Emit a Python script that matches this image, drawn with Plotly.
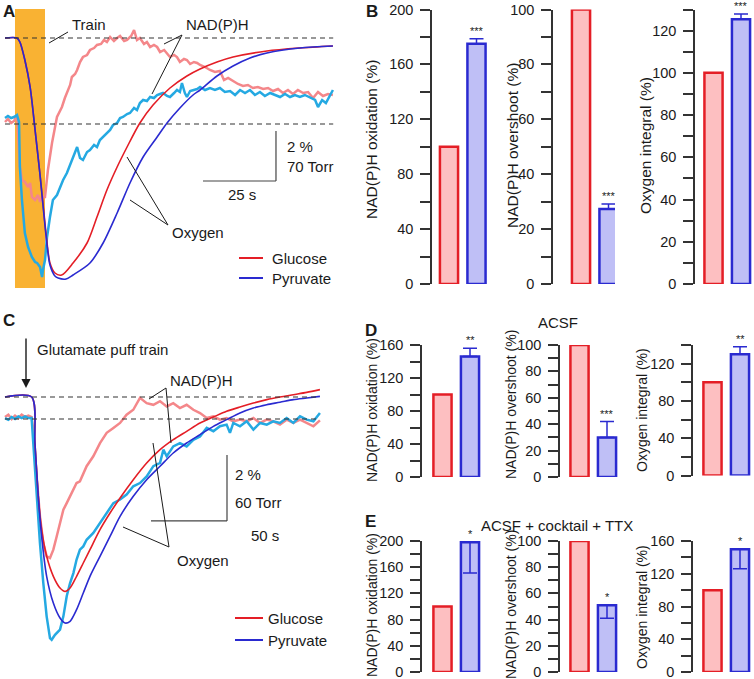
import plotly.graph_objects as go

W, H = 754, 679

# ---------------- Panel A traces (time in s, NAD(P)H in %, oxygen in Torr) ----------------
a_t_o2_glc = [0, 4.1, 5.1, 6.8, 8.6, 10.3, 12.0, 13.0, 14.4, 15.4, 17.1, 19.4, 23.3, 28.1, 31.5,
              34.9, 38.4, 41.8, 46.2, 50.7, 56.5, 62.3, 66.8, 72.6, 78.1, 89.7, 101.0, 112.3]
a_o2_glucose = [0, 0, -5.6, -30.8, -68.6, -128.8, -191.8, -231, -287, -315, -329, -331.8, -315, -287, -250.6,
                -212.8, -180.6, -152.6, -119, -93.8, -70, -53.2, -43.4, -33.6, -26.6, -18.2, -14, -11.2]
a_t_o2_pyr = [0, 4.1, 5.1, 6.8, 8.6, 10.3, 12.0, 13.0, 14.4, 15.4, 17.1, 18.2, 20.9, 23.3, 29.1, 33.6,
              38.4, 42.8, 47.3, 52.1, 55.5, 59.9, 64.4, 66.8, 72.6, 78.1, 83.9, 89.7, 101.0, 112.3]
a_o2_pyruvate = [0, 0, -5.6, -30.8, -68.6, -128.8, -191.8, -233.8, -289.8, -317.8, -333.2, -336, -337.4, -331.8,
                 -315, -287, -245, -203, -166.6, -138.6, -119, -98, -79.8, -72.8, -53.2, -39.2, -28, -21, -14, -11.2]

a_t_nadh_glc = [0, 1.0, 2.1, 3.1, 4.1, 4.5, 5.1, 5.8, 6.8, 7.9, 8.6, 9.2, 10.3, 11.3, 12.0, 12.7, 13.7, 14.7,
                16.1, 17.8, 18.8, 19.5, 20.5, 21.2, 22.3, 22.9, 24.0, 24.7, 25.7, 26.7, 28.1, 29.1, 30.5,
                31.5, 32.9, 33.9, 34.9, 36.0, 37.3, 38.4, 39.4, 40.8, 41.8, 43.2, 44.2, 45.2, 46.2, 47.6,
                48.6, 49.7, 51.0, 52.1, 53.1, 54.5, 55.5, 56.5, 57.9, 58.9, 59.9, 61.3, 62.3, 63.4, 64.7,
                65.8, 66.8, 68.5, 70.2, 71.9, 73.6, 75.0, 76.4, 78.1, 79.8, 81.5, 83.2, 84.9, 86.6, 88.4,
                90.1, 91.8, 93.5, 95.2, 96.9, 98.6, 100.3, 102.1, 103.8, 105.5, 107.2, 108.9, 110.6, 112.3]
a_nadh_glucose = [0.08, 0.20, 0.04, 0.12, 0.36, -0.36, -1.72, -2.24, -2.32, -2.52, -2.36, -2.92, -3.04, -2.84,
                  -3.12, -2.92, -2.92, -1.84, -0.76, 0.28, 0.56, 0.68, 1.04, 1.24, 1.56, 1.88, 2.0, 2.16, 2.48,
                  2.68, 2.76, 2.96, 3.04, 3.16, 3.2, 3.36, 3.28, 3.48, 3.32, 3.44, 3.52, 3.32, 3.36, 3.52,
                  3.76, 3.36, 3.44, 3.2, 3.28, 3.08, 3.16, 3.08, 2.88, 2.96, 2.84, 2.68, 2.76, 2.68, 2.48,
                  2.6, 2.56, 2.4, 2.48, 2.44, 2.36, 2.28, 2.16, 2.08, 2.12, 1.76, 1.84, 1.72, 1.6, 1.52,
                  1.56, 1.44, 1.48, 1.4, 1.44, 1.32, 1.4, 1.24, 1.36, 1.2, 1.36, 1.24, 1.28, 1.04, 1.28,
                  1.12, 1.2, 1.16]

a_t_nadh_pyr = [0, 1.0, 2.1, 3.1, 4.1, 4.8, 5.1, 5.8, 6.8, 7.9, 9.2, 10.3, 11.0, 12.0, 12.7, 13.0, 13.7, 14.4,
                15.4, 16.4, 17.8, 18.8, 19.9, 21.2, 22.3, 23.3, 24.7, 25.7, 26.7, 28.1, 29.1, 30.5, 31.5,
                32.5, 33.6, 34.9, 36.0, 37.0, 38.4, 39.4, 40.4, 41.8, 42.8, 44.2, 45.2, 46.2, 47.3, 48.6,
                49.7, 51.0, 52.1, 53.1, 54.1, 55.5, 56.5, 57.9, 58.9, 59.9, 60.6, 61.6, 62.3, 63.4, 64.4,
                65.8, 66.8, 68.5, 70.2, 71.9, 73.6, 75.3, 77.1, 78.8, 80.5, 82.2, 83.9, 85.6, 87.3, 89.0,
                90.8, 92.5, 94.2, 95.9, 97.6, 99.3, 101.0, 102.7, 104.5, 106.2, 107.2, 108.6, 109.9, 111.3, 112.3]
a_nadh_pyruvate = [0.24, 0.32, 0.24, 0.28, 0.36, 0.08, -1.72, -3.04, -4.36, -4.92, -5.32, -5.52, -5.56, -5.72,
                   -6.12, -5.84, -5.44, -4.52, -3.72, -3.04, -2.84, -2.52, -2.24, -1.96, -1.64, -1.32, -0.92,
                   -1.36, -1.44, -1.12, -1.04, -0.84, -0.92, -0.64, -0.52, -0.36, -0.24, -0.04, 0.04, 0.24,
                   0.28, 0.4, 0.44, 0.64, 0.56, 0.84, 0.96, 0.92, 1.08, 1.04, 1.16, 1.2, 1.24, 1.12, 1.08,
                   1.24, 1.36, 1.28, 1.64, 1.24, 1.08, 1.32, 1.36, 1.4, 1.48, 1.36, 1.44, 1.36, 1.44, 1.28,
                   1.32, 1.16, 1.36, 1.24, 1.36, 1.16, 1.28, 1.12, 1.24, 1.16, 1.08, 1.2, 1.08, 1.16, 1.08,
                   1.16, 1.04, 0.96, 0.68, 0.96, 0.84, 1.16, 1.36]

# ---------------- Panel C traces ----------------
c_t_o2 = [0, 17.5, 19.7, 21.9, 24.1, 27.4, 31.8, 36.2, 39.5, 42.8, 47.1, 51.5, 55.9, 62.5, 69.1, 75.7,
          84.4, 93.2, 102.0, 110.7, 119.5, 128.3, 137.1, 145.8, 154.6, 163.4, 172.2, 180.9, 189.7, 198.5, 207.2]
c_o2_glucose = [0, 0, -41.8, -90.3, -120.6, -144.8, -163.0, -173.6, -176.7, -173.6, -163.0, -150.9, -138.8,
                -120.6, -105.5, -91.8, -75.2, -60.0, -47.9, -38.8, -31.2, -23.6, -18.2, -13.0, -9.1, -5.5,
                -2.4, 0, 2.1, 4.2, 6.7]
c_o2_pyruvate = [0, 0, -41.8, -90.3, -126.7, -163.0, -187.3, -200.9, -205.5, -203.9, -193.3, -178.2, -163.0,
                 -144.8, -126.7, -108.5, -90.3, -75.2, -63.0, -50.9, -41.8, -34.2, -26.7, -20.6, -14.5,
                 -10.0, -7.0, -4.8, -2.4, -0.9, 0.6]

c_t_nadh_glc = [0, 2.2, 4.4, 6.6, 8.8, 11.0, 13.2, 15.4, 17.5, 18.6, 20.8, 23.0, 25.2, 27.4, 29.6, 31.8, 34.0,
                36.2, 38.4, 40.6, 42.8, 45.0, 47.1, 49.3, 51.5, 53.7, 55.9, 58.1, 62.5, 66.9, 71.3, 75.7,
                80.0, 84.4, 88.8, 93.2, 97.6, 102.0, 106.4, 110.7, 115.1, 119.5, 123.9, 128.3, 132.7,
                137.1, 141.4, 145.8, 150.2, 154.6, 159.0, 163.4, 167.8, 172.2, 176.5, 180.9, 185.3,
                189.7, 194.1, 198.5, 202.9, 207.2]
c_nadh_glucose = [0.06, 0.13, 0, 0.10, 0.03, 0.13, 0.06, 0.10, 0.06, -0.32, -1.74, -2.95, -3.76, -4.16, -4.21,
                  -3.96, -3.56, -3.15, -2.75, -2.55, -2.34, -2.14, -1.94, -1.89, -1.64, -1.43, -1.28, -1.13,
                  -0.73, -0.42, -0.27, -0.12, 0.13, 0.28, 0.64, 0.48, 0.43, 0.54, 0.38, 0.48, 0.33, 0.43,
                  0.28, 0.18, 0.03, 0.08, -0.02, 0.03, -0.07, -0.02, -0.07, 0.03, -0.12, -0.02, -0.07,
                  -0.17, -0.02, -0.12, -0.02, -0.12, -0.22, -0.04]

c_t_nadh_pyr = [0, 2.2, 4.4, 6.6, 8.8, 11.0, 13.2, 15.4, 17.5, 18.6, 20.8, 23.0, 25.2, 27.4, 29.6, 30.7, 32.9,
                36.2, 38.4, 40.6, 42.8, 45.0, 47.1, 49.3, 51.5, 53.7, 58.1, 62.5, 66.9, 71.3, 75.7, 80.0,
                84.4, 88.8, 93.2, 97.6, 102.0, 104.2, 106.4, 110.7, 115.1, 119.5, 123.9, 128.3, 132.7,
                137.1, 141.4, 145.8, 148.0, 150.2, 154.6, 159.0, 163.4, 167.8, 172.2, 176.5, 180.9,
                185.3, 189.7, 194.1, 198.5, 202.9, 207.2]
c_nadh_pyruvate = [0.03, -0.02, 0.06, 0, 0.08, 0.03, 0.08, 0.03, 0.03, -0.73, -2.34, -3.76, -4.97, -5.98,
                   -6.64, -6.69, -6.54, -6.38, -5.98, -5.37, -4.97, -4.67, -4.26, -3.96, -3.86, -3.66, -3.45,
                   -3.15, -2.85, -2.55, -2.44, -2.29, -2.04, -1.94, -1.74, -1.43, -1.33, -0.93, -1.13, -0.83,
                   -0.73, -0.83, -0.63, -0.53, -0.27, -0.37, -0.22, -0.17, -0.42, -0.12, -0.22, -0.07,
                   -0.32, -0.12, -0.17, -0.07, -0.12, 0.03, -0.12, 0.08, -0.02, -0.07, 0.18]

# ---------------- Bar data (% of glucose) ----------------
conditions = ["Glucose", "Pyruvate"]

b_oxidation, b_oxidation_err = [100, 175], 3.6
b_overshoot, b_overshoot_err = [100, 27.3], 1.8
b_o2_integral, b_o2_integral_err = [100, 125.4], 2.5

d_oxidation, d_oxidation_err = [100, 146], 10
d_overshoot, d_overshoot_err = [100, 30], 12
d_o2_integral, d_o2_integral_err = [100, 130], 8

e_oxidation, e_oxidation_err = [100, 198], 47
e_overshoot, e_overshoot_err = [100, 51], 10
e_o2_integral, e_o2_integral_err = [100, 150], 24

RED = "#E41E26"
BLUE = "#2A2AD0"
PINK = "#F4878A"
CYAN = "#25A9E2"
RED_FILL = "#FDBFC1"
BLUE_FILL = "#BFBFF6"
INK = "#1a1a1a"
AXIS = "#333333"
FONT = "Liberation Sans, Arial, sans-serif"


def px(x):
    return x / W


def py(y):
    return 1 - y / H


fig = go.Figure()
shapes = []
annotations = []


def text(x, y, s, size=15, anchor="left", bold=False, angle=0):
    annotations.append(dict(
        x=px(x), y=py(y), xref="paper", yref="paper", text=f"<b>{s}</b>" if bold else s,
        showarrow=False, xanchor=anchor, yanchor="middle", textangle=angle,
        font=dict(size=size, color=INK, family=FONT),
    ))


def pline(x0, y0, x1, y1, color=INK, width=1):
    shapes.append(dict(type="line", xref="paper", yref="paper", x0=px(x0), y0=py(y0),
                       x1=px(x1), y1=py(y1), line=dict(color=color, width=width)))


# ---------------- Panel A ----------------
A_O2_OFF, A_O2_SCALE = 3.44, 2 / 70
fig.add_trace(go.Scatter(x=a_t_nadh_glc, y=a_nadh_glucose, mode="lines",
                         line=dict(color=PINK, width=2.5), xaxis="x", yaxis="y"))
fig.add_trace(go.Scatter(x=a_t_nadh_pyr, y=a_nadh_pyruvate, mode="lines",
                         line=dict(color=CYAN, width=2.5), xaxis="x", yaxis="y"))
fig.add_trace(go.Scatter(x=a_t_o2_glc, y=[A_O2_OFF + v * A_O2_SCALE for v in a_o2_glucose], mode="lines",
                         line=dict(color=RED, width=1.6, shape="spline", smoothing=0.8), xaxis="x", yaxis="y"))
fig.add_trace(go.Scatter(x=a_t_o2_pyr, y=[A_O2_OFF + v * A_O2_SCALE for v in a_o2_pyruvate], mode="lines",
                         line=dict(color=BLUE, width=1.6, shape="spline", smoothing=0.8), xaxis="x", yaxis="y"))

# train box, baselines, scale bar
shapes.append(dict(type="rect", xref="x", yref="y", x0=3.42, x1=13.7, y0=-6.56, y1=4.6,
                   fillcolor="#F9B233", line=dict(width=0), layer="below"))
for yb in (0, A_O2_OFF):
    shapes.append(dict(type="line", xref="x", yref="y", x0=0, x1=112.4, y0=yb, y1=yb,
                       line=dict(color="#333", width=1.2, dash="5px,4px")))
shapes.append(dict(type="line", xref="x", yref="y", x0=67.8, x1=92.8, y0=-2.28, y1=-2.28,
                   line=dict(color="#444", width=1.2)))
shapes.append(dict(type="line", xref="x", yref="y", x0=92.8, x1=92.8, y0=-0.28, y1=-2.28,
                   line=dict(color="#444", width=1.2)))

text(1, 11, "A", size=17, bold=True)
text(70, 25, "Train")
pline(49, 43, 68, 32)
text(184, 25, "NAD(P)H")
pline(182, 35, 164, 44)
pline(182, 35, 152, 94)
text(170, 232, "Oxygen")
pline(168, 225, 127, 157)
pline(168, 225, 130, 200)
text(285, 146, "2 %")
text(285, 166, "70 Torr")
text(242, 195, "25 s", anchor="center")
pline(239, 258, 263, 258, RED, 2)
pline(239, 278, 263, 278, BLUE, 2)
text(270, 258, "Glucose")
text(270, 278, "Pyruvate")

fig.update_layout(
    xaxis=dict(domain=[px(0), px(360)], range=[-5 / 2.92, 355 / 2.92], visible=False, anchor="y",
               automargin=False),
    yaxis=dict(domain=[py(300), py(0)], range=[-176 / 25, 124 / 25], visible=False, anchor="x",
               automargin=False),
)

# ---------------- Panel C ----------------
C_O2_OFF, C_O2_SCALE = 22 / 33, 2 / 60
fig.add_trace(go.Scatter(x=c_t_nadh_glc, y=c_nadh_glucose, mode="lines",
                         line=dict(color=PINK, width=2.5), xaxis="x2", yaxis="y2"))
fig.add_trace(go.Scatter(x=c_t_nadh_pyr, y=c_nadh_pyruvate, mode="lines",
                         line=dict(color=CYAN, width=2.5), xaxis="x2", yaxis="y2"))
fig.add_trace(go.Scatter(x=c_t_o2, y=[C_O2_OFF + v * C_O2_SCALE for v in c_o2_glucose], mode="lines",
                         line=dict(color=RED, width=1.6, shape="spline", smoothing=0.8), xaxis="x2", yaxis="y2"))
fig.add_trace(go.Scatter(x=c_t_o2, y=[C_O2_OFF + v * C_O2_SCALE for v in c_o2_pyruvate], mode="lines",
                         line=dict(color=BLUE, width=1.6, shape="spline", smoothing=0.8), xaxis="x2", yaxis="y2"))
for yb in (0, C_O2_OFF):
    shapes.append(dict(type="line", xref="x2", yref="y2", x0=0, x1=207.2, y0=yb, y1=yb,
                       line=dict(color="#333", width=1.2, dash="5px,4px")))
shapes.append(dict(type="line", xref="x2", yref="y2", x0=96.05, x1=146.05, y0=-3.09, y1=-3.09,
                   line=dict(color="#444", width=1.2)))
shapes.append(dict(type="line", xref="x2", yref="y2", x0=146.05, x1=146.05, y0=-1.09, y1=-3.09,
                   line=dict(color="#444", width=1.2)))

text(1, 320, "C", size=17, bold=True)
text(35, 350, "Glutamate puff train")
annotations.append(dict(x=px(26), y=py(388), xref="paper", yref="paper", ax=0, ay=-51, text="",
                        showarrow=True, arrowhead=2, arrowsize=1.3, arrowwidth=1.4, arrowcolor=INK))
text(168, 380, "NAD(P)H")
pline(166, 388, 149, 399)
pline(166, 388, 171, 443)
text(175, 560, "Oxygen")
pline(169, 547, 123, 527)
pline(169, 547, 153, 443)
text(233, 475, "2 %")
text(233, 502, "60 Torr")
text(265, 535, "50 s", anchor="center")
pline(235, 618, 263, 618, RED, 2)
pline(235, 640, 263, 640, BLUE, 2)
text(266, 618, "Glucose")
text(266, 640, "Pyruvate")

fig.update_layout(
    xaxis2=dict(domain=[px(0), px(360)], range=[-5 / 1.52, 355 / 1.52], visible=False, anchor="y2",
                automargin=False),
    yaxis2=dict(domain=[py(679), py(330)], range=[-260 / 33, 89 / 33], visible=False, anchor="x2",
                automargin=False),
)

# ---------------- Bar panels ----------------
UNIT = 27.5  # px per category step


def bar_panel(n, axis_x, red_cx, y_top, y_bot, top, dtick, minor, values, err, down, stars,
              title, title_x, title_y, title_size):
    xa, ya = f"x{n}", f"y{n}"
    fig.add_trace(go.Bar(x=[conditions[0]], y=[values[0]], xaxis=xa, yaxis=ya, width=0.66,
                         marker=dict(color=RED_FILL, line=dict(color=RED, width=2.5))))
    err_y = dict(type="data", symmetric=False, array=[0 if down else err], arrayminus=[err if down else 0],
                 color=BLUE, thickness=1.5, width=7)
    fig.add_trace(go.Bar(x=[conditions[1]], y=[values[1]], xaxis=xa, yaxis=ya, width=0.66,
                         marker=dict(color=BLUE_FILL, line=dict(color=BLUE, width=2.5)), error_y=err_y))
    r0 = -(red_cx - axis_x) / UNIT
    span = min(62, W - axis_x)
    fig.update_layout(**{
        f"xaxis{n}": dict(domain=[px(axis_x), px(axis_x + span)], range=[r0, r0 + span / UNIT], anchor=ya,
                          visible=False, type="category", categoryorder="array", categoryarray=conditions,
                          automargin=False),
        f"yaxis{n}": dict(domain=[py(y_bot), py(y_top)], range=[0, top], anchor=xa, automargin=False,
                          showline=True, linecolor=AXIS, linewidth=1.5, showgrid=False, zeroline=False,
                          ticks="outside", ticklen=10, tickwidth=1.5, tickcolor=AXIS,
                          tick0=0, dtick=dtick, ticklabelstandoff=4, ticklabeloverflow="allow",
                          tickfont=dict(size=14.5, color=INK, family=FONT),
                          minor=dict(dtick=minor, ticks="outside", ticklen=10, tickwidth=1.5, tickcolor=AXIS)),
    })
    ytop = values[1] if down else values[1] + err
    annotations.append(dict(x=conditions[1], y=ytop, xref=xa, yref=ya, text=stars, showarrow=False,
                            yanchor="bottom", yshift=0, font=dict(size=11, color=INK, family=FONT)))
    text(title_x, title_y, title, size=title_size, anchor="center", angle=-90)


bar_panel(3, 432, 449, 9.5, 284, 200, 40, 20, b_oxidation, b_oxidation_err, False, "***",
          "NAD(P)H oxidation (%)", 372, 140, 15.5)
bar_panel(4, 553, 581, 9.5, 284, 100, 20, 10, b_overshoot, b_overshoot_err, False, "***",
          "NAD(P)H overshoot (%)", 512, 146, 15.5)
bar_panel(5, 695, 713.5, 9.5, 284, 130, 20, 10, b_o2_integral, b_o2_integral_err, False, "***",
          "Oxygen integral (%)", 645, 146, 15.5)

bar_panel(6, 422, 442.5, 345, 477, 160, 40, 20, d_oxidation, d_oxidation_err, False, "**",
          "NAD(P)H oxidation (%)", 372, 410, 14)
bar_panel(7, 560, 579.5, 345, 477, 100, 20, 10, d_overshoot, d_overshoot_err, False, "***",
          "NAD(P)H overshoot (%)", 511, 405, 14)
bar_panel(8, 693, 712.5, 345, 475.5, 140, 40, 20, d_o2_integral, d_o2_integral_err, False, "**",
          "Oxygen integral (%)", 642, 410, 14)

bar_panel(9, 422, 442.5, 541, 672, 200, 40, 20, e_oxidation, e_oxidation_err, True, "*",
          "NAD(P)H oxidation (%)", 372, 605, 14)
bar_panel(10, 560, 579.5, 541, 672, 100, 20, 10, e_overshoot, e_overshoot_err, True, "*",
          "NAD(P)H overshoot (%)", 511, 605, 14)
bar_panel(11, 693, 712.5, 541, 672, 160, 40, 20, e_o2_integral, e_o2_integral_err, True, "*",
          "Oxygen integral (%)", 642, 607, 14)

text(364, 11, "B", size=17, bold=True)
text(363, 330, "D", size=17, bold=True)
text(363, 521, "E", size=17, bold=True)
text(558, 322, "ACSF", anchor="center")
text(557, 525, "ACSF + cocktail + TTX", anchor="center")

fig.update_layout(
    width=W, height=H, margin=dict(l=0, r=0, t=0, b=0, autoexpand=False),
    paper_bgcolor="white", plot_bgcolor="rgba(0,0,0,0)",
    showlegend=False, barmode="overlay",
    font=dict(family=FONT, color=INK),
    shapes=shapes, annotations=annotations,
)

fig.write_html("out.html", config={"displayModeBar": False},
               post_script="document.documentElement.style.margin='0';document.body.style.margin='0';"
                           "document.body.style.overflow='hidden';")
